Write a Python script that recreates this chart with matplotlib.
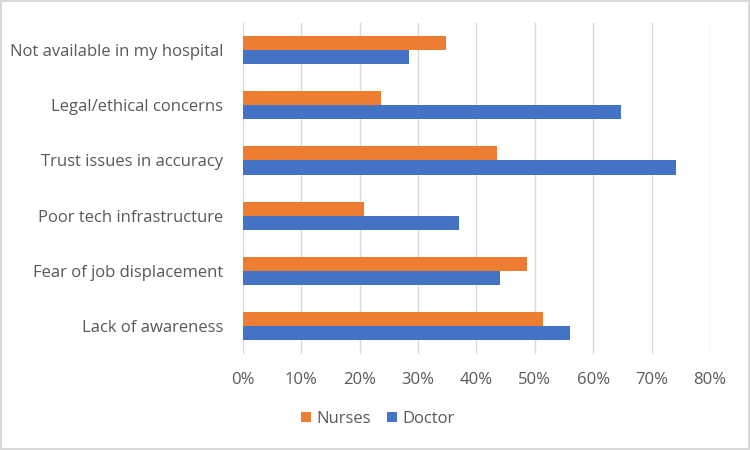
import numpy as np
import matplotlib.pyplot as plt
from matplotlib.ticker import PercentFormatter

categories = ['Lack of awareness', 'Fear of job displacement', 'Poor tech infrastructure',
              'Trust issues in accuracy', 'Legal/ethical concerns', 'Not available in my hospital']
nurses = [51.4, 48.6, 20.7, 43.6, 23.6, 34.8]
doctor = [56.0, 44.0, 37.1, 74.2, 64.7, 28.4]

plt.rcParams['font.family'] = ['Open Sans', 'DejaVu Sans']
txt = '#595959'

fig = plt.figure(figsize=(7.5, 4.5), dpi=100)
fig.patch.set_edgecolor('#d9d9d9')
fig.patch.set_linewidth(1.5)
ax = fig.add_axes([0.3236, 0.2142, 0.6231, 0.7358])

y = np.arange(len(categories))
h = 0.255
ax.barh(y + h / 2, np.array(nurses) / 100, height=h, color='#ed7d31', label='Nurses', zorder=3)
ax.barh(y - h / 2, np.array(doctor) / 100, height=h, color='#4472c4', label='Doctor', zorder=3)

ax.set_xlim(0, 0.8)
ax.set_ylim(-0.5, len(categories) - 0.5)
ax.set_xticks(np.arange(0, 0.81, 0.1))
ax.xaxis.set_major_formatter(PercentFormatter(1.0, decimals=0))
ax.set_yticks(y)
ax.set_yticklabels(categories)
ax.grid(axis='x', color='#d9d9d9', linewidth=1, zorder=0)
for s in ax.spines.values():
    s.set_visible(False)
ax.tick_params(length=0, colors=txt, labelsize=12)
ax.tick_params(axis='y', pad=14)
ax.tick_params(axis='x', pad=13)

fig.legend(loc='center', bbox_to_anchor=(0.504, 0.069), ncol=2, frameon=False,
           fontsize=12, labelcolor=txt, handlelength=0.6, handleheight=0.6,
           handletextpad=0.3, columnspacing=1.0)

fig.savefig('out.png', dpi=100)
